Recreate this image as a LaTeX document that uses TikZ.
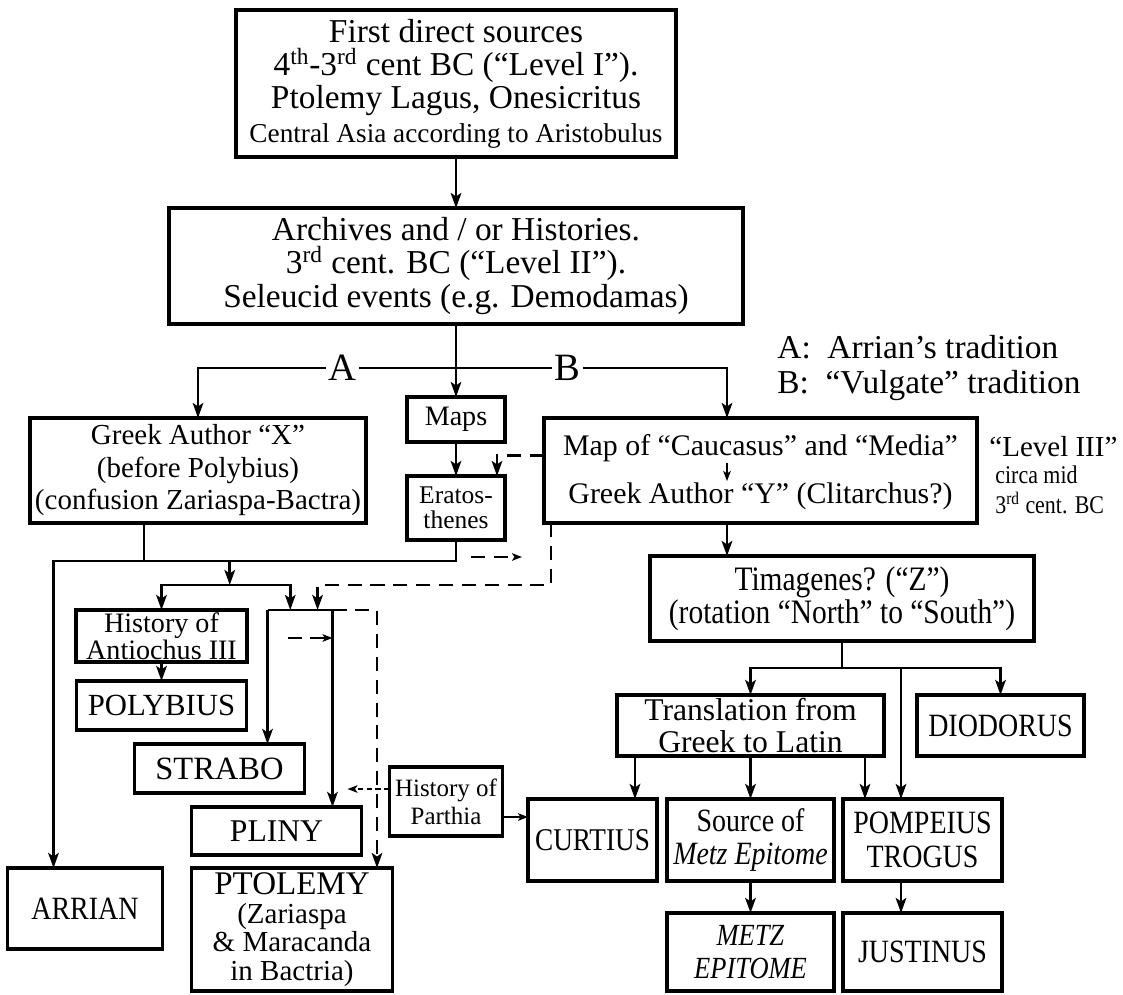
\documentclass[tikz,border=0pt]{standalone}
\usepackage{fontspec}
\setmainfont{Liberation Serif}
\newfontfamily\narrowfont{Liberation Serif}[FakeStretch=0.86]
\usetikzlibrary{positioning,arrows.meta,calc}

\begin{document}
\begin{tikzpicture}[
  >={Stealth[length=3mm, width=2.1mm, inset=0.7mm]},
  line width=1.6pt,
  bx/.style={draw, line width=1.8pt, align=center, inner sep=1pt, outer sep=0pt},
  fbig/.style={font=\fontsize{19}{19}\selectfont},
  fmed/.style={font=\fontsize{16.5}{18.5}\selectfont},
  fsml/.style={font=\fontsize{14.5}{14.5}\selectfont},
  fnar/.style={font=\narrowfont\fontsize{#1}{19}\selectfont},
  fkey/.style={inner sep=0pt, font=\fontsize{19}{20}\selectfont},
  inr/.style={inner sep=0pt, font=\fontsize{17}{18}\selectfont},
  lab/.style={fill=white, inner sep=1.5pt, font=\fontsize{22}{22}\selectfont},
  dsh/.style={dash pattern=on 8pt off 5pt},
  fine/.style={line width=1.3pt, dash pattern=on 3pt off 2pt},
  sm/.style={-{Stealth[length=2mm, width=1.5mm, inset=0.5mm]}}]
  \useasboundingbox (0,0) rectangle (22.46,-19.88);

  % levels I and II
  \node[bx, fbig, minimum width=8.8cm, minimum height=2.94cm] (src) at (9.12,-1.67)
    {First direct sources\\ 4\textsuperscript{th}-3\textsuperscript{rd} cent BC (“Level I”).\\
     Ptolemy Lagus, Onesicritus\\ {\fontsize{15.5}{17}\selectfont Central Asia according to Aristobulus}};
  \node[bx, fbig, minimum width=11.48cm, minimum height=2.32cm, below=1.02cm of src] (arch)
    {Archives and / or Histories.\\ 3\textsuperscript{rd} cent. BC (“Level II”).\\ Seleucid events (e.g. Demodamas)};

  % level III
  \node[bx, font=\fontsize{16}{16}\selectfont, minimum width=1.96cm, minimum height=0.9cm,
        below=1.46cm of arch] (maps) {Maps};
  \node[bx, fsml, minimum width=1.96cm, minimum height=1.28cm, below=0.68cm of maps] (erat) {Eratos-\\thenes};
  \node[bx, fmed, minimum width=6.72cm, minimum height=2.1cm, below=1.88cm of arch.south west,
        xshift=0.58cm] (grX) {Greek Author “X”\\ (before Polybius)\\ (confusion Zariaspa-Bactra)};
  \node[bx, minimum width=8.66cm, minimum height=2.1cm, below=1.88cm of arch.south east,
        xshift=0.35cm] (mapY) {};
  \node[inr] (mapT) at ([yshift=-0.6cm]mapY.north) {Map of “Caucasus” and “Media”};
  \node[inr] (authY) at ([yshift=0.54cm]mapY.south) {Greek Author “Y” (Clitarchus?)};

  \node[fkey, anchor=base west] (keyA) at ([xshift=4.64cm, yshift=1.2cm]mapY.north west) {A:\ \ Arrian’s tradition};
  \node[fkey, anchor=base west] (keyB) at ([yshift=-0.7cm]keyA.base west) {B:\ \ “Vulgate” tradition};
  \node[anchor=north west, align=left, inner sep=0pt, font=\narrowfont\fontsize{14.5}{11}\selectfont] (lvl)
    at ([xshift=0.22cm, yshift=0.71cm]mapY.east)
    {{\rmfamily\fontsize{16.5}{16}\selectfont “Level III”}\\[4.4pt]
     \hspace*{0.12cm}circa mid\\[3.5pt] \hspace*{0.12cm}3\textsuperscript{rd} cent. BC};

  % tradition A
  \node[bx, font=\fontsize{16}{14}\selectfont, minimum width=3.42cm, minimum height=1.04cm,
        below=1.74cm of grX.south west, anchor=north west, xshift=0.92cm] (antio) {History of\\ Antiochus III};
  \node[bx, font=\fontsize{17.5}{17}\selectfont, minimum width=3.4cm, minimum height=0.98cm,
        below=0.38cm of antio] (poly) {POLYBIUS};
  \node[bx, font=\fontsize{18.5}{18}\selectfont, minimum width=3.4cm, minimum height=0.98cm,
        below=0.28cm of poly.south west, anchor=north west, xshift=1.16cm] (strabo) {STRABO};
  \node[bx, font=\fontsize{18}{18}\selectfont, minimum width=3.4cm, minimum height=0.96cm,
        below=0.28cm of strabo.south west, anchor=north west, xshift=1.14cm] (pliny) {PLINY};
  \node[bx, font=\fontsize{16.5}{16.3}\selectfont, minimum width=4.02cm, minimum height=2.46cm,
        below=0.26cm of pliny.south west, anchor=north west] (ptol)
    {{\fontsize{18.8}{18}\selectfont PTOLEMY}\\ (Zariaspa\\ \& Maracanda\\ in Bactria)};
  \node[bx, fnar=18.5, minimum width=3.1cm, minimum height=1.62cm,
        left=0.58cm of ptol.north west, anchor=north east] (arrian) {ARRIAN};
  \node[bx, font=\fontsize{14.2}{16}\selectfont, minimum width=2.26cm, minimum height=1.38cm,
        right=0.56cm of pliny.north east, anchor=north west, yshift=0.8cm] (parth) {History of\\ Parthia};

  % tradition B
  \node[bx, fnar=19.5, minimum width=7.68cm, minimum height=1.7cm,
        below=0.66cm of mapY.south, xshift=1.63cm] (tim) {Timagenes? (“Z”)\\ (rotation “North” to “South”)};
  \node[bx, font=\fontsize{18}{18}\selectfont, minimum width=5.34cm, minimum height=1.22cm,
        below=1.08cm of tim.south west, anchor=north west, xshift=-0.66cm] (trans) {Translation from\\ Greek to Latin};
  \node[bx, fnar=18.5, minimum width=3.34cm, minimum height=1.22cm,
        right=0.66cm of trans] (diod) {DIODORUS};
  \node[bx, fnar=18.5, minimum width=3.34cm, minimum height=1.64cm,
        below=0.86cm of trans] (srcM) {Source of\\ \textit{Metz Epitome}};
  \node[bx, fnar=18, minimum width=2.58cm, minimum height=1.64cm,
        left=0.2cm of srcM] (curt) {CURTIUS};
  \node[bx, fnar=18.5, minimum width=3.18cm, minimum height=1.64cm,
        right=0.18cm of srcM] (pomp) {POMPEIUS\\ TROGUS};
  \node[bx, fnar=17.5, minimum width=3.34cm, minimum height=1.56cm,
        below=0.64cm of srcM] (metz) {\textit{METZ}\\ \textit{EPITOME}};
  \node[bx, fnar=18.5, minimum width=3.18cm, minimum height=1.56cm,
        below=0.64cm of pomp] (just) {JUSTINUS};

  % top chain and A / B split
  \draw[->] (src) -- (arch);
  \draw[->] (arch) -- (maps);
  \draw[->] (maps) -- (erat);
  \coordinate (fork) at ([yshift=-0.88cm]arch.south);
  \coordinate (bY) at ([xshift=-0.67cm]mapY.north);
  \draw[->] (fork) -- node[lab, pos=0.44] (labA) {A} (fork -| grX.north) -- (grX.north);
  \draw[->] (fork) -- node[lab, pos=0.41] (labB) {B} (fork -| bY) -- (bY);
  \draw[sm] (bY |- mapT.south) -- (bY |- authY.north);
  \coordinate (mW) at ([yshift=0.3cm]mapY.west);
  \coordinate (eIn) at ([xshift=-0.16cm]erat.north east);
  \draw[dsh, ->] (mW) -- (mW -| eIn) -- (eIn);

  % left branch
  \coordinate (bus) at ([yshift=-0.42cm]erat.south);
  \coordinate (arrIn) at ([xshift=0.92cm]arrian.north west);
  \coordinate (grXo) at ([xshift=-1.08cm]grX.south);
  \draw[->] (erat.south) -- (bus) -- (bus -| arrIn) -- (arrIn);
  \draw (grXo) -- (grXo |- bus);
  \coordinate (spl) at ([yshift=0.5cm]antio.north);
  \coordinate (sIn) at ([xshift=0.96cm]strabo.north);
  \coordinate (pIn) at ([xshift=1.12cm]pliny.north);
  \coordinate (tIn) at ([xshift=1.7cm]ptol.north);
  \coordinate (jL) at (sIn |- antio.north);
  \coordinate (jR) at (pIn |- antio.north);
  \coordinate (jD) at (tIn |- antio.north);
  \coordinate (jIn) at ($(jL)!0.35!(jR)$);
  \coordinate (jDash) at ($(jL)!0.77!(jR)$);
  \coordinate (drop) at ($(spl)!0.53!(spl -| jIn)$);
  \draw[->] (drop |- bus) -- (drop);
  \draw[<->] (antio.north) -- (spl) -- (spl -| jIn) -- (jIn);
  \draw (jL) -- (jR);
  \draw[->] (jL) -- (sIn);
  \draw[->] (jR) -- (pIn);
  \draw[dsh, ->] (jR) -- (jD) -- (tIn);
  \draw[->] (antio) -- (poly);
  \coordinate (kA) at ($(jL)!0.31!(jR)$);
  \coordinate (kS) at ([yshift=-0.56cm]kA);
  \draw[dsh, sm] (kS) -- (kS -| jR);

  % dashed links from the Map
  \coordinate (mapO) at ([xshift=0.14cm]mapY.south west);
  \draw[dsh, ->] (mapO) -- (mapO |- spl) -- (spl -| jDash) -- (jDash);
  \coordinate (eS) at ([xshift=0.3cm, yshift=0.08cm]bus);
  \coordinate (eX) at (eS -| mapO);
  \coordinate (eE) at ([xshift=-0.58cm]eX);
  \draw[dsh, sm] (eS) -- (eE);

  % Parthia
  \coordinate (pW) at ([yshift=0.25cm]parth.west);
  \coordinate (pX) at (pW -| jR);
  \coordinate (pT) at ([xshift=0.3cm]pX);
  \draw[fine, sm] (pW) -- (pT);
  \coordinate (pE) at ([yshift=-0.31cm]parth.east);
  \draw[sm] (pE) -- (pE -| curt.west);

  % right branch
  \draw[->] (bY |- mapY.south) -- (bY |- tim.north);
  \coordinate (tf) at ([yshift=-0.54cm]tim.south);
  \draw (tim.south) -- (tf);
  \draw[<->] (trans.north) -- (trans.north |- tf) -- (tf -| diod.north) -- (diod.north);
  \coordinate (pgIn) at ([xshift=-0.43cm]pomp.north);
  \draw[->] (pgIn |- tf) -- (pgIn);
  \coordinate (cIn) at ([xshift=0.85cm]curt.north);
  \coordinate (ptIn) at ([xshift=0.44cm]pomp.north west);
  \draw[->] (cIn |- trans.south) -- (cIn);
  \draw[->] (trans) -- (srcM);
  \draw[->] (ptIn |- trans.south) -- (ptIn);
  \draw[->] (srcM) -- (metz);
  \draw[->] (pgIn |- pomp.south) -- (pgIn |- just.north);
\end{tikzpicture}
\end{document}
